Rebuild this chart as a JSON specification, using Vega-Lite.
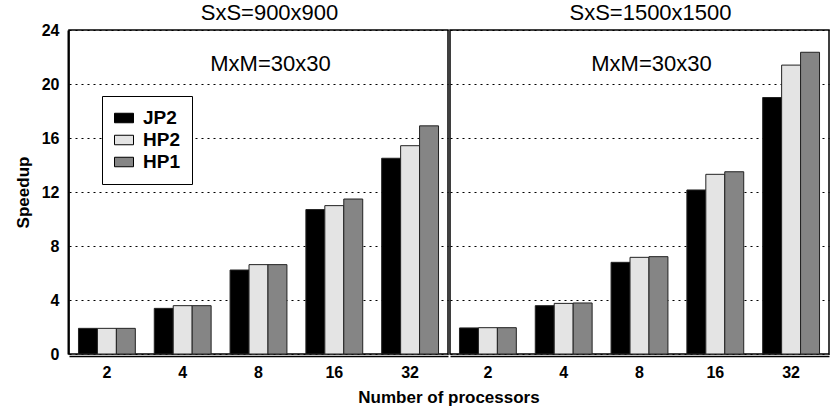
{
  "$schema": "https://vega.github.io/schema/vega-lite/v6.json",
  "padding": {"left": 14, "right": 1, "top": 1, "bottom": 2},
  "background": "white",
  "data": {"values": [
    {"panel": "SxS=900x900", "procs": "2", "series": "JP2", "speedup": 1.9},
    {"panel": "SxS=900x900", "procs": "2", "series": "HP2", "speedup": 1.9},
    {"panel": "SxS=900x900", "procs": "2", "series": "HP1", "speedup": 1.9},
    {"panel": "SxS=900x900", "procs": "4", "series": "JP2", "speedup": 3.38},
    {"panel": "SxS=900x900", "procs": "4", "series": "HP2", "speedup": 3.58},
    {"panel": "SxS=900x900", "procs": "4", "series": "HP1", "speedup": 3.58},
    {"panel": "SxS=900x900", "procs": "8", "series": "JP2", "speedup": 6.22},
    {"panel": "SxS=900x900", "procs": "8", "series": "HP2", "speedup": 6.62},
    {"panel": "SxS=900x900", "procs": "8", "series": "HP1", "speedup": 6.62},
    {"panel": "SxS=900x900", "procs": "16", "series": "JP2", "speedup": 10.7},
    {"panel": "SxS=900x900", "procs": "16", "series": "HP2", "speedup": 10.99},
    {"panel": "SxS=900x900", "procs": "16", "series": "HP1", "speedup": 11.48},
    {"panel": "SxS=900x900", "procs": "32", "series": "JP2", "speedup": 14.5},
    {"panel": "SxS=900x900", "procs": "32", "series": "HP2", "speedup": 15.43},
    {"panel": "SxS=900x900", "procs": "32", "series": "HP1", "speedup": 16.9},
    {"panel": "SxS=1500x1500", "procs": "2", "series": "JP2", "speedup": 1.93},
    {"panel": "SxS=1500x1500", "procs": "2", "series": "HP2", "speedup": 1.95},
    {"panel": "SxS=1500x1500", "procs": "2", "series": "HP1", "speedup": 1.95},
    {"panel": "SxS=1500x1500", "procs": "4", "series": "JP2", "speedup": 3.58},
    {"panel": "SxS=1500x1500", "procs": "4", "series": "HP2", "speedup": 3.75},
    {"panel": "SxS=1500x1500", "procs": "4", "series": "HP1", "speedup": 3.78},
    {"panel": "SxS=1500x1500", "procs": "8", "series": "JP2", "speedup": 6.79},
    {"panel": "SxS=1500x1500", "procs": "8", "series": "HP2", "speedup": 7.16},
    {"panel": "SxS=1500x1500", "procs": "8", "series": "HP1", "speedup": 7.21},
    {"panel": "SxS=1500x1500", "procs": "16", "series": "JP2", "speedup": 12.15},
    {"panel": "SxS=1500x1500", "procs": "16", "series": "HP2", "speedup": 13.31},
    {"panel": "SxS=1500x1500", "procs": "16", "series": "HP1", "speedup": 13.5},
    {"panel": "SxS=1500x1500", "procs": "32", "series": "JP2", "speedup": 19.0},
    {"panel": "SxS=1500x1500", "procs": "32", "series": "HP2", "speedup": 21.4},
    {"panel": "SxS=1500x1500", "procs": "32", "series": "HP1", "speedup": 22.35}
  ]},
  "facet": {
    "column": {
      "field": "panel", "type": "nominal", "sort": ["SxS=900x900", "SxS=1500x1500"],
      "title": "Number of processors",
      "header": {"titleOrient": "bottom", "labels": false,
                 "titleFontSize": 17, "titleFontWeight": "bold", "titleFont": "Liberation Sans", "titleColor": "#000", "titlePadding": 0}
    }
  },
  "spacing": 0,
  "spec": {
    "width": 379,
    "height": 324,
    "layer": [
      {
        "mark": {"type": "bar", "stroke": "#222", "strokeWidth": 1},
        "encoding": {
          "x": {"field": "procs", "type": "ordinal", "sort": ["2", "4", "8", "16", "32"],
                "scale": {"paddingInner": 0, "paddingOuter": 0},
                "axis": {"title": null, "labelAngle": 0, "labelFontSize": 16, "labelFontWeight": "bold", "labelFont": "Liberation Sans", "labelColor": "#000", "ticks": false, "labelPadding": 8, "domainColor": "#000", "domainWidth": 1.5}},
          "xOffset": {"field": "series", "type": "nominal", "sort": ["JP2", "HP2", "HP1"],
                "scale": {"paddingInner": 0, "paddingOuter": 0.5}},
          "y": {"field": "speedup", "type": "quantitative",
                "scale": {"domain": [0, 24]},
                "axis": {"title": "Speedup", "values": [0, 4, 8, 12, 16, 20, 24], "titleFontSize": 17, "titleFontWeight": "bold", "titleFont": "Liberation Sans", "titleColor": "#000", "titlePadding": 9,
                         "labelFontSize": 16, "labelFontWeight": "bold", "labelFont": "Liberation Sans", "labelColor": "#000", "labelPadding": 9, "ticks": false,
                         "grid": true, "gridColor": "#000", "gridDash": [2, 4], "gridWidth": 1.2, "domainColor": "#000", "domainWidth": 2}},
          "color": {"field": "series", "type": "nominal", "sort": ["JP2", "HP2", "HP1"],
                "scale": {"domain": ["JP2", "HP2", "HP1"], "range": ["#000000", "#e4e4e4", "#858585"]},
                "legend": {"title": null, "orient": "none", "legendX": 33, "legendY": 66, "symbolType": "M-1,-0.5H1V0.5H-1Z", "symbolSize": 361, "symbolStrokeColor": "#000", "symbolStrokeWidth": 1, "symbolOpacity": 1,
                           "labelFontSize": 19, "labelFontWeight": "bold", "labelFont": "Liberation Sans", "labelColor": "#000", "rowPadding": 2, "labelOffset": 9,
                           "strokeColor": "#000", "fillColor": "#fff", "padding": 12, "cornerRadius": 0}}
        }
      },
      {
        "transform": [{"filter": "datum.procs == '8' && datum.series == 'JP2'"}],
        "mark": {"type": "text", "fontSize": 22, "font": "Liberation Sans", "color": "#000", "baseline": "middle", "align": "center", "dx": 12},
        "encoding": {
          "x": {"field": "procs", "type": "ordinal", "sort": ["2", "4", "8", "16", "32"]},
          "y": {"datum": 21.5, "type": "quantitative"},
          "text": {"value": "MxM=30x30"}
        }
      },
      {
        "transform": [{"filter": "datum.procs == '8' && datum.series == 'JP2'"}],
        "mark": {"type": "text", "fontSize": 22, "font": "Liberation Sans", "color": "#000", "baseline": "middle", "align": "center", "dx": 11, "dy": -17, "clip": false},
        "encoding": {
          "x": {"field": "procs", "type": "ordinal", "sort": ["2", "4", "8", "16", "32"]},
          "y": {"datum": 24, "type": "quantitative"},
          "text": {"field": "panel", "type": "nominal"}
        }
      }
    ]
  },
  "config": {
    "view": {"stroke": "#000", "strokeWidth": 1.5}
  }
}
